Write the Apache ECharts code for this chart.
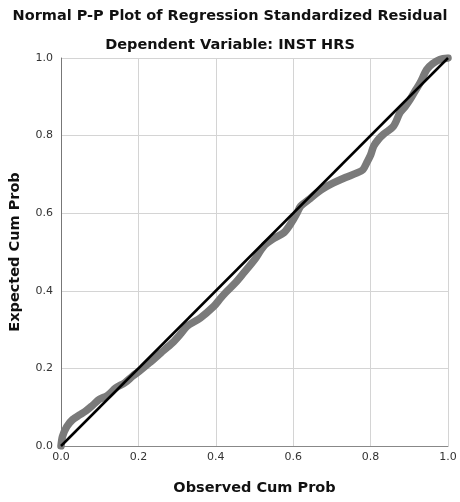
<!DOCTYPE html>
<html>
<head>
<meta charset="utf-8">
<script src="https://cdn.jsdelivr.net/npm/echarts@6/dist/echarts.min.js"></script>
<style>html,body{margin:0;padding:0;background:#fff}#c{width:460px;height:502px}</style>
</head>
<body>
<div id="c"></div>
<script>
var titleText = "Normal P-P Plot of Regression Standardized Residual";
var subtitleText = "Dependent Variable: INST HRS";
var xName = "Observed Cum Prob";
var yName = "Expected Cum Prob";
var tickValues = [0, 0.2, 0.4, 0.6, 0.8, 1.0];
// Observed cum prob (x) and expected cum prob (y)
var observed = [0.0, 0.004, 0.015, 0.03, 0.048, 0.064, 0.082, 0.099, 0.12, 0.142, 0.165, 0.185, 0.205, 0.228, 0.258, 0.288, 0.31, 0.326, 0.36, 0.395, 0.41, 0.425, 0.45, 0.472, 0.5, 0.524, 0.55, 0.576, 0.595, 0.61, 0.619, 0.64, 0.662, 0.685, 0.704, 0.735, 0.765, 0.78, 0.79, 0.8, 0.808, 0.82, 0.833, 0.859, 0.876, 0.89, 0.902, 0.915, 0.928, 0.945, 0.96, 0.979, 1.0];
var expected = [0.0, 0.025, 0.05, 0.068, 0.08, 0.09, 0.105, 0.12, 0.13, 0.15, 0.163, 0.18, 0.195, 0.214, 0.24, 0.266, 0.29, 0.309, 0.33, 0.36, 0.378, 0.395, 0.42, 0.446, 0.48, 0.515, 0.535, 0.55, 0.575, 0.601, 0.618, 0.635, 0.653, 0.668, 0.678, 0.692, 0.704, 0.712, 0.73, 0.75, 0.773, 0.79, 0.803, 0.824, 0.859, 0.876, 0.893, 0.915, 0.936, 0.97, 0.985, 0.996, 1.0];
var refLine = [[0, 0], [1, 1]];

var pts = observed.map(function (x, i) { return [x, expected[i]]; });
var chart = echarts.init(document.getElementById('c'), null, {renderer: 'canvas'});
var boldFam = '"DejaVu Sans", Verdana, sans-serif';
var tickFam = '"DejaVu Sans", Verdana, sans-serif';
chart.setOption({
  animation: false,
  backgroundColor: '#fff',
  title: [
    {text: titleText, left: 'center', top: 4, textStyle: {fontFamily: boldFam, fontWeight: 'bold', fontSize: 14.5, color: '#111'}},
    {text: subtitleText, left: 'center', top: 33, textStyle: {fontFamily: boldFam, fontWeight: 'bold', fontSize: 14.5, color: '#111'}}
  ],
  grid: {left: 60, right: 12, top: 58, bottom: 56, containLabel: false},
  xAxis: {
    type: 'value', min: 0, max: 1, interval: 0.2,
    name: xName, nameLocation: 'middle', nameGap: 35,
    nameTextStyle: {fontFamily: boldFam, fontWeight: 'bold', fontSize: 14.5, color: '#111'},
    axisLine: {lineStyle: {color: '#888', width: 1}},
    axisTick: {show: false},
    axisLabel: {fontFamily: tickFam, fontSize: 11, color: '#333', margin: 6, formatter: function (v) { return v.toFixed(1); }},
    splitLine: {show: true, lineStyle: {color: '#d4d4d4', width: 1}}
  },
  yAxis: {
    type: 'value', min: 0, max: 1, interval: 0.2,
    name: yName, nameLocation: 'middle', nameGap: 38,
    nameTextStyle: {fontFamily: boldFam, fontWeight: 'bold', fontSize: 14.5, color: '#111'},
    axisLine: {show: true, lineStyle: {color: '#777', width: 1}},
    axisTick: {show: false},
    axisLabel: {fontFamily: tickFam, fontSize: 11, color: '#333', margin: 8, formatter: function (v) { return v.toFixed(1); }},
    splitLine: {show: true, lineStyle: {color: '#d4d4d4', width: 1}}
  },
  series: [
    {type: 'line', data: pts, showSymbol: false, symbol: 'none', smooth: 0.3,
      lineStyle: {color: '#7a7a7a', width: 7.5, cap: 'round', join: 'round'}, z: 2},
    {type: 'line', data: refLine, showSymbol: false, symbol: 'none',
      lineStyle: {color: '#000', width: 2.5}, z: 3}
  ]
});
</script>
</body>
</html>
